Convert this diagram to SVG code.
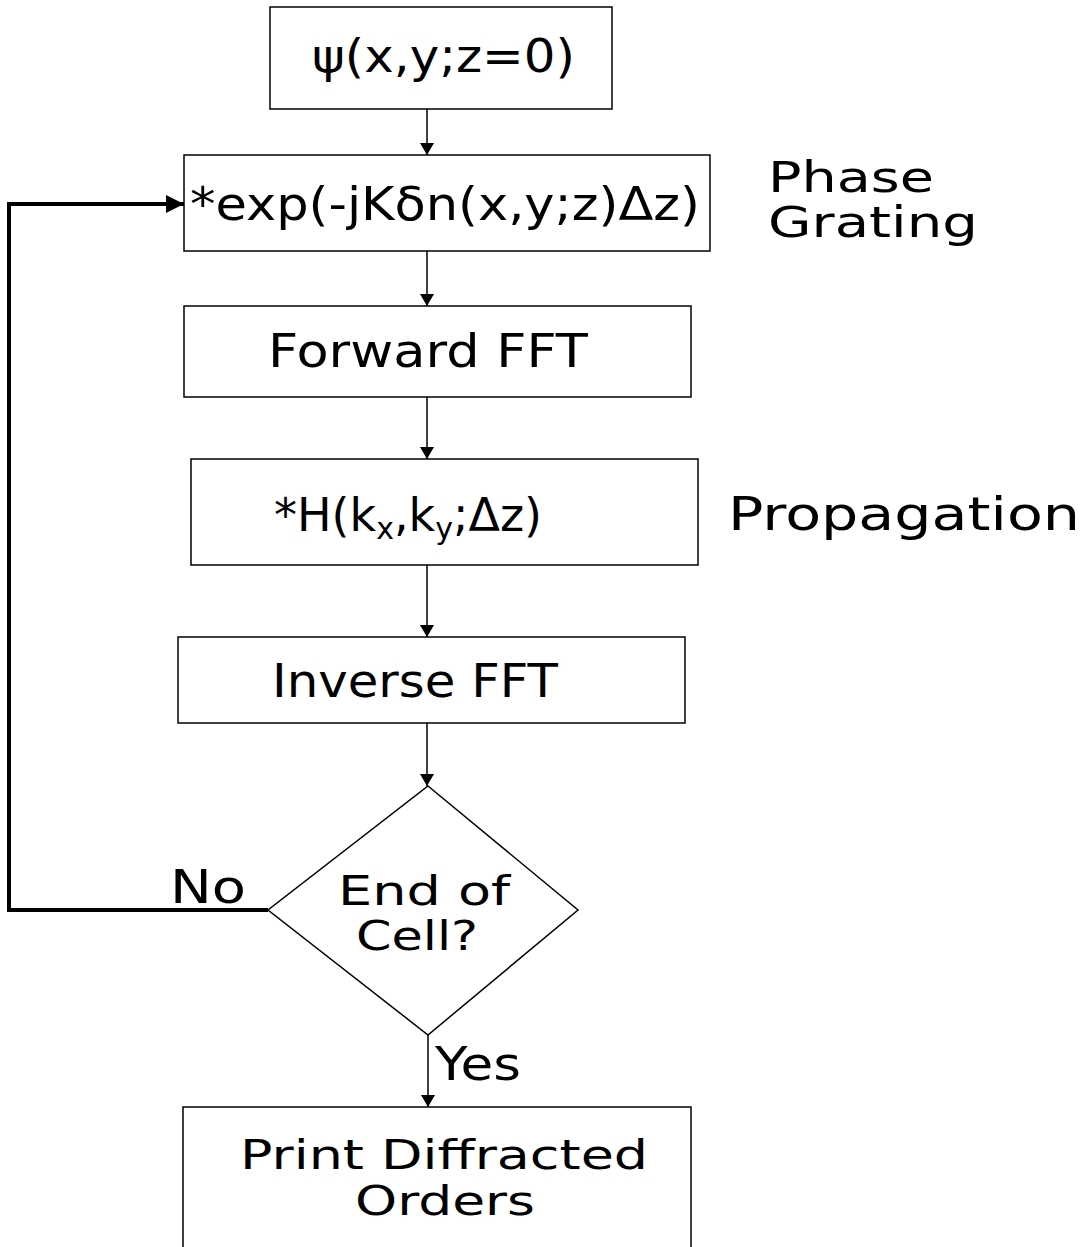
<svg xmlns="http://www.w3.org/2000/svg" width="1092" height="1247" viewBox="0 0 1092 1247">
<style>
.box{fill:#fff;stroke:#000;stroke-width:1.5}
.t{font-family:"DejaVu Sans","Liberation Sans",sans-serif;font-size:46px;fill:#000}
.t2{font-size:43px}
.t3{font-size:41px}
.c{stroke:#000;stroke-width:1.5;fill:none}
.thick{stroke:#000;stroke-width:4;fill:none}
</style>
<defs>
<marker id="a" viewBox="0 0 12 14" refX="12" refY="7" markerWidth="12" markerHeight="14" markerUnits="userSpaceOnUse" orient="auto"><path d="M0,0L12,7L0,14z" fill="#000"/></marker>
<marker id="b" viewBox="0 0 10 10" refX="10" refY="5" markerWidth="4.5" markerHeight="4.5" orient="auto"><path d="M0,0L10,5L0,10z" fill="#000"/></marker>
</defs>
<rect width="1092" height="1247" fill="#fff"/>
<g id="connectors">
<line class="c" x1="427" y1="109" x2="427" y2="155" marker-end="url(#a)"/>
<line class="c" x1="427" y1="251" x2="427" y2="306" marker-end="url(#a)"/>
<line class="c" x1="427" y1="397" x2="427" y2="459" marker-end="url(#a)"/>
<line class="c" x1="427" y1="565" x2="427" y2="637" marker-end="url(#a)"/>
<line class="c" x1="427" y1="723" x2="427" y2="786" marker-end="url(#a)"/>
<line class="c" x1="428" y1="1035" x2="428" y2="1107" marker-end="url(#a)"/>
<polyline class="thick" points="268,910 9,910 9,204 184,204" marker-end="url(#b)"/>
<text class="t" x="170" y="903" textLength="76" lengthAdjust="spacingAndGlyphs">No</text>
<text class="t" x="435" y="1080" textLength="86" lengthAdjust="spacingAndGlyphs">Yes</text>
</g>
<g id="start">
<rect class="box" x="270" y="7" width="342" height="102"/>
<text class="t" x="312" y="72" textLength="263" lengthAdjust="spacingAndGlyphs">ψ(x,y;z=0)</text>
</g>
<g id="phase">
<rect class="box" x="184" y="155" width="526" height="96"/>
<text class="t" x="190" y="220" textLength="510" lengthAdjust="spacingAndGlyphs">*exp(-jKδn(x,y;z)Δz)</text>
</g>
<g id="phase-label">
<text class="t t2" x="768" y="192" textLength="166" lengthAdjust="spacingAndGlyphs">Phase</text>
<text class="t t2" x="768" y="237" textLength="210" lengthAdjust="spacingAndGlyphs">Grating</text>
</g>
<g id="fwd">
<rect class="box" x="184" y="306" width="507" height="91"/>
<text class="t" x="268" y="367" textLength="320" lengthAdjust="spacingAndGlyphs">Forward FFT</text>
</g>
<g id="prop">
<rect class="box" x="191" y="459" width="507" height="106"/>
<text class="t" x="274" y="531">*H(k<tspan font-size="30" dy="8">x</tspan><tspan dy="-8">,k</tspan><tspan font-size="30" dy="8">y</tspan><tspan dy="-8">;Δz)</tspan></text>
</g>
<g id="prop-label">
<text class="t" x="728" y="530" textLength="352" lengthAdjust="spacingAndGlyphs">Propagation</text>
</g>
<g id="inv">
<rect class="box" x="178" y="637" width="507" height="86"/>
<text class="t" x="272" y="697" textLength="286" lengthAdjust="spacingAndGlyphs">Inverse FFT</text>
</g>
<g id="decision">
<polygon class="box" points="428,786 578,910 428,1035 268,910"/>
<text class="t t3" x="338" y="905" textLength="172" lengthAdjust="spacingAndGlyphs">End of</text>
<text class="t t3" x="356" y="950" textLength="122" lengthAdjust="spacingAndGlyphs">Cell?</text>
</g>
<g id="print">
<rect class="box" x="183" y="1107" width="508" height="160"/>
<text class="t t3" x="240" y="1169" textLength="408" lengthAdjust="spacingAndGlyphs">Print Diffracted</text>
<text class="t t3" x="355" y="1215" textLength="180" lengthAdjust="spacingAndGlyphs">Orders</text>
</g>
</svg>
